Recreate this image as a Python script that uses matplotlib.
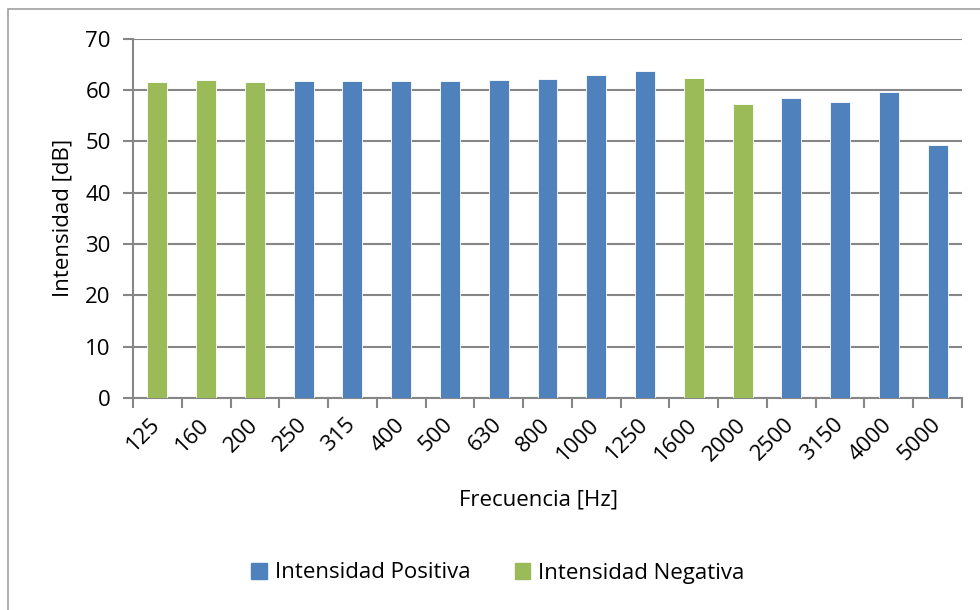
import matplotlib
matplotlib.use('Agg')
import matplotlib.pyplot as plt
from matplotlib.patches import Patch, Rectangle

plt.rcParams['font.family'] = ['Open Sans', 'DejaVu Sans']

frecuencias = ['125', '160', '200', '250', '315', '400', '500', '630', '800',
               '1000', '1250', '1600', '2000', '2500', '3150', '4000', '5000']
intensidad = [61.5, 61.9, 61.6, 61.7, 61.7, 61.8, 61.8, 61.9, 62.1,
              62.9, 63.8, 62.3, 57.2, 58.4, 57.7, 59.7, 49.3]
# signo de la intensidad medida en cada banda
positiva = [False, False, False, True, True, True, True, True, True,
            True, True, False, False, True, True, True, True]

azul = '#4F81BD'
verde = '#9BBB59'
gris = '#868686'

fig = plt.figure(figsize=(9.8, 6.1), dpi=100)
fig.patches.append(Rectangle((8 / 980, -0.1), 1.2, 1 - 9 / 610 + 0.1,
                             transform=fig.transFigure, fill=False,
                             edgecolor='#A0A0A0', linewidth=1.2))
ax = fig.add_axes([133 / 980, 1 - 398 / 610, (962 - 133) / 980, (398 - 38.7) / 610])

x = list(range(len(frecuencias)))
colores = [azul if p else verde for p in positiva]
ax.bar(x, intensidad, width=0.41, color=colores, edgecolor='white',
       linewidth=0.6, zorder=3)

ax.set_xlim(-0.5, len(frecuencias) - 0.5)
ax.set_ylim(0, 70)
ax.set_yticks(range(0, 71, 10))
ax.yaxis.grid(True, color=gris, linewidth=1.5, zorder=0)
ax.set_axisbelow(True)

for s in ['top', 'right']:
    ax.spines[s].set_visible(False)
for s in ['left', 'bottom']:
    ax.spines[s].set_color(gris)
    ax.spines[s].set_linewidth(1.5)

fs = 16
ax.set_xticks(x)
ax.set_xticklabels(frecuencias, rotation=45, ha='right', va='center',
                   rotation_mode='anchor', fontsize=fs)
ax.tick_params(axis='x', length=0, pad=17)
ax.set_xticks([i - 0.5 for i in range(len(frecuencias) + 1)], minor=True)
ax.tick_params(axis='x', which='minor', length=7, width=1.5, color=gris)
ax.tick_params(axis='y', length=7, width=1.5, color=gris, labelsize=fs, pad=9)

ax.set_xlabel('Frecuencia [Hz]', fontsize=fs)
ax.xaxis.set_label_coords(0.489, -0.255)
ax.set_ylabel('Intensidad [dB]', fontsize=fs)
ax.yaxis.set_label_coords(-0.072, 0.5)

handles = [Patch(color=azul, label='Intensidad Positiva'),
           Patch(color=verde, label='Intensidad Negativa')]
fig.legend(handles=handles, loc='center', bbox_to_anchor=(498 / 980, 1 - 573 / 610),
           ncol=2, frameon=False, fontsize=fs, handlelength=0.7, handleheight=0.7,
           handletextpad=0.35, columnspacing=2.0)

fig.savefig('out.png', dpi=100)
